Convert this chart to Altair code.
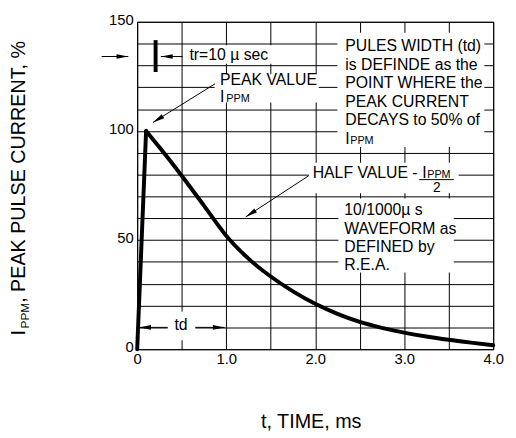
import altair as alt
import pandas as pd

# ---- waveform values (t in ms, current in % of IPPM) ----
t_ms = [0.0, 0.1, 0.25, 0.5, 0.75, 1.0, 1.25, 1.5, 1.75, 2.0, 2.25, 2.5, 2.75, 3.0, 3.25, 3.5, 3.75, 4.0]
i_pct = [0, 100, 92.5, 79.5, 65.8, 52, 41.5, 33.3, 26.5, 20.8, 16.2, 12.5, 9.8, 7.6, 5.8, 4.3, 3.0, 1.8]

# grid / tick values
x_ticks = [0, 0.5, 1.0, 1.5, 2.0, 2.5, 3.0, 3.5, 4.0]
y_ticks = list(range(0, 151, 10))

# annotation texts
block1 = ["PULES WIDTH (td)", "is DEFINDE as the", "POINT WHERE the", "PEAK CURRENT", "DECAYS to 50% of"]
block2 = ["10/1000\u00b5 s", "WAVEFORM as", "DEFINED by", "R.E.A."]

FONT = "Liberation Sans"
W, H = 361, 332

xs = alt.Scale(domain=[0, 4], nice=False, zero=False)
ys = alt.Scale(domain=[0, 150], nice=False)

curve = pd.DataFrame({"t": t_ms, "i": i_pct})

x_axis = alt.Axis(
    values=x_ticks, grid=True, gridColor="black", gridWidth=1, gridOpacity=1,
    ticks=False, tickSize=0, domain=False, labelFlush=False, labelOverlap=False,
    labelExpr="datum.value == 0 ? '0' : (datum.value % 1 == 0 ? format(datum.value, '.1f') : '')",
    labelFont=FONT, labelFontSize=15, labelColor="black", labelPadding=3,
    title="t, TIME, ms", titleFont=FONT, titleFontSize=20, titleFontWeight="normal",
    titleColor="black", titleX=176, titleY=79, titleBaseline="alphabetic", titleAlign="center",
)
y_axis = alt.Axis(
    values=y_ticks, grid=True, gridColor="black", gridWidth=1, gridOpacity=1,
    ticks=False, tickSize=0, domain=False, labelFlush=False, labelOverlap=False,
    labelExpr="datum.value % 50 == 0 ? datum.label : ''",
    labelFont=FONT, labelFontSize=15, labelColor="black", labelPadding=4, labelOffset=-2.5,
    title="",
)


def X(field):
    return alt.X(field, scale=xs, axis=x_axis)


def Y(field):
    return alt.Y(field, scale=ys, axis=y_axis)


# white boxes behind annotation text (data units)
boxes = pd.DataFrame({
    "x1": [0.52, 0.87, 2.25, 1.928, 2.26, 0.343],
    "x2": [1.55, 2.04, 3.90, 3.612, 3.557, 0.654],
    "y1": [130.8, 113.0, 92.6, 71.4, 35.2, 4.1],
    "y2": [139.2, 126.0, 145.0, 85.4, 69.1, 17.2],
})
box_layer = alt.Chart(boxes).mark_rect(fill="white", strokeWidth=0).encode(
    x=X("x1:Q"), x2="x2:Q", y=Y("y1:Q"), y2="y2:Q")

rise = alt.Chart(curve).transform_filter("datum.t <= 0.1").mark_line(
    color="black", strokeWidth=4, strokeCap="round").encode(x=X("t:Q"), y=Y("i:Q"))
decay = alt.Chart(curve).transform_filter("datum.t >= 0.1").mark_line(
    color="black", strokeWidth=4, strokeCap="round", interpolate="monotone").encode(
    x=X("t:Q"), y=Y("i:Q"))

# arrows: tail (x1,y1) -> tip (x2,y2)
arrows = pd.DataFrame({
    "x1": [-0.399, 0.51, 0.875, 1.928, 0.343, 0.654],
    "y1": [134.1, 134.1, 121.6, 79.5, 10.0, 10.0],
    "x2": [-0.0997, 0.266, 0.177, 1.219, 0.022, 0.983],
    "y2": [134.1, 134.1, 103.9, 60.6, 10.0, 10.0],
    "ang": [90, 270, 238, 237, 270, 90],
})
arrow_lines = alt.Chart(arrows).mark_rule(color="black", strokeWidth=1).encode(
    x=X("x1:Q"), x2="x2:Q", y=Y("y1:Q"), y2="y2:Q")
arrow_heads = alt.Chart(arrows).mark_point(
    shape="M0,0L0.4,2L-0.4,2Z", filled=True, size=144, color="black", opacity=1, strokeWidth=0
).encode(x=X("x2:Q"), y=Y("y2:Q"), angle=alt.Angle("ang:Q", scale=None))

# tr bar
bar = pd.DataFrame({"x": [0.207], "y1": [127.0], "y2": [141.6]})
bar_layer = alt.Chart(bar).mark_rule(color="black", strokeWidth=4).encode(
    x=X("x:Q"), y=Y("y1:Q"), y2="y2:Q")

# fraction bar under IPPM
frac = pd.DataFrame({"x1": [3.169], "x2": [3.557], "y": [77.7]})
frac_layer = alt.Chart(frac).mark_rule(color="black", strokeWidth=1).encode(
    x=X("x1:Q"), x2="x2:Q", y=Y("y:Q"))

# left-aligned annotation texts
ann_left = pd.DataFrame({
    "text": ["tr=10 \u00b5 sec", "PEAK VALUE", "I", "PPM"]
            + block1 + ["I", "PPM"]
            + ["HALF VALUE  -", "I", "PPM"]
            + block2,
    "x": [0.587, 0.93, 0.93, 1.0]
         + [2.338] * 5 + [2.338, 2.393]
         + [1.972, 3.202, 3.258]
         + [2.327] * 4,
    "y": [132.7, 121.0, 113.4, 113.4]
         + [136.5, 128.0, 119.5, 111.0, 102.5] + [94.0, 94.0]
         + [78.5, 78.5, 78.5]
         + [61.5, 53.0, 44.6, 36.1],
    "size": [16, 16, 16, 11]
            + [16] * 5 + [16, 11]
            + [16, 16, 11]
            + [16] * 4,
})
text_left = alt.Chart(ann_left).mark_text(
    align="left", baseline="alphabetic", font=FONT, color="black").encode(
    x=X("x:Q"), y=Y("y:Q"), text="text:N", size=alt.Size("size:Q", scale=None, legend=None))

ann_center = pd.DataFrame({"text": ["td", "2"], "x": [0.492, 3.368], "y": [8.7, 72.0], "size": [16, 14]})
text_center = alt.Chart(ann_center).mark_text(
    align="center", baseline="alphabetic", font=FONT, color="black").encode(
    x=X("x:Q"), y=Y("y:Q"), text="text:N", size=alt.Size("size:Q", scale=None, legend=None))


# y-axis title pieces (rotated), "I" + subscript "PPM" + rest
def ytitle(txt, px, py, fs):
    return alt.Chart(pd.DataFrame({"s": [txt]})).mark_text(
        angle=270, align="left", baseline="alphabetic", font=FONT, fontSize=fs, color="black"
    ).encode(x=alt.value(px), y=alt.value(py), text="s:N")


yt1 = ytitle("I", -114, 318, 20)
yt2 = ytitle("PPM", -110, 311, 12)
yt3 = ytitle(", PEAK PULSE CURRENT, %", -114, 285, 20)

chart = alt.layer(
    box_layer, rise, decay, arrow_lines, arrow_heads, bar_layer, frac_layer,
    text_left, text_center, yt1, yt2, yt3,
).properties(
    width=W, height=H,
    autosize=alt.AutoSizeParams(type="none"),
    padding={"left": 131, "top": 11, "right": 15, "bottom": 84},
).configure_view(stroke="black", strokeWidth=1)

chart.save("out.html", embed_options={"renderer": "svg", "actions": False})
